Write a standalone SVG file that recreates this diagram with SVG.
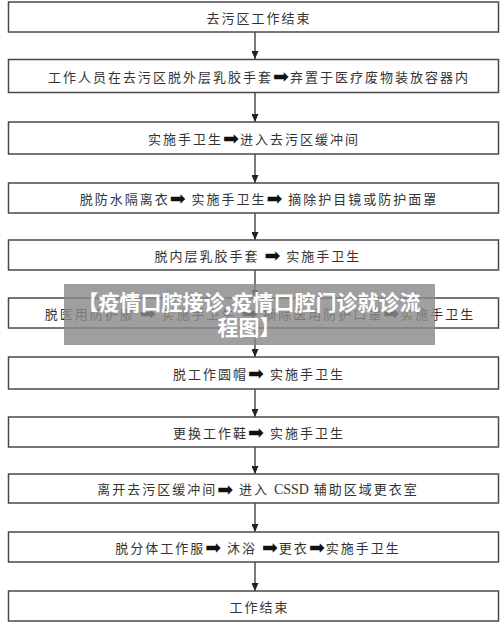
<svg xmlns="http://www.w3.org/2000/svg" width="500" height="631" viewBox="0 0 500 631">
<style>
.box{fill:#fff;stroke:#4a4a4a;stroke-width:1.5}
.t{font-family:"Noto Sans CJK SC","Noto Sans",sans-serif;font-size:13px;letter-spacing:2px;fill:#333;text-anchor:middle;dominant-baseline:central}
.a{font-family:"DejaVu Sans",sans-serif;font-size:19px;letter-spacing:1px;fill:#111}
.lat{font-family:"Liberation Serif",serif;font-size:14px;letter-spacing:0}
.conn{stroke:#333;stroke-width:1.3;fill:none}
.ov{fill:#8a8a8a;opacity:0.82}
.ot{font-family:"Noto Sans CJK SC",sans-serif;font-size:21px;font-weight:bold;fill:#fff;text-anchor:middle}
</style>
<defs>
<marker id="ad" markerWidth="7" markerHeight="8" refX="3.5" refY="8" orient="0" markerUnits="userSpaceOnUse" viewBox="0 0 7 8">
<path d="M0,0 L7,0 L3.5,8 Z" fill="#222"/>
</marker>
</defs>
<rect width="500" height="631" fill="#fff"/>
<g id="connectors">
<line class="conn" x1="255" y1="32" x2="255" y2="59" marker-end="url(#ad)"/>
<line class="conn" x1="255" y1="92.5" x2="255" y2="122" marker-end="url(#ad)"/>
<line class="conn" x1="255" y1="154" x2="255" y2="183" marker-end="url(#ad)"/>
<line class="conn" x1="255" y1="213" x2="255" y2="240" marker-end="url(#ad)"/>
<line class="conn" x1="255" y1="270" x2="255" y2="298" marker-end="url(#ad)"/>
<line class="conn" x1="255" y1="328" x2="255" y2="357" marker-end="url(#ad)"/>
<line class="conn" x1="255" y1="389" x2="255" y2="417" marker-end="url(#ad)"/>
<line class="conn" x1="255" y1="447" x2="255" y2="474" marker-end="url(#ad)"/>
<line class="conn" x1="255" y1="503" x2="255" y2="532" marker-end="url(#ad)"/>
<line class="conn" x1="255" y1="562" x2="255" y2="591" marker-end="url(#ad)"/>
</g>
<g id="n1"><rect class="box" x="8.5" y="2" width="490" height="30"/><text class="t" x="259" y="17">去污区工作结束</text></g>
<g id="n2"><rect class="box" x="8.5" y="59.5" width="490" height="33"/><text class="t" x="259" y="76">工作人员在去污区脱外层乳胶手套<tspan class="a">➡</tspan>弃置于医疗废物装放容器内</text></g>
<g id="n3"><rect class="box" x="8.5" y="122" width="490" height="32"/><text class="t" x="254" y="138">实施手卫生<tspan class="a">➡</tspan>进入去污区缓冲间</text></g>
<g id="n4"><rect class="box" x="8.5" y="183" width="490" height="30"/><text class="t" x="259" y="198">脱防水隔离衣<tspan class="a">➡</tspan> 实施手卫生<tspan class="a">➡</tspan> 摘除护目镜或防护面罩</text></g>
<g id="n5"><rect class="box" x="8.5" y="240" width="490" height="30"/><text class="t" x="258" y="255">脱内层乳胶手套 <tspan class="a">➡</tspan> 实施手卫生</text></g>
<g id="n6"><rect class="box" x="8.5" y="298" width="490" height="30"/><text class="t" x="260" y="313">脱医用防护服 <tspan class="a">➡</tspan> 实施手卫生 <tspan class="a">➡</tspan> 摘除医用防护口罩<tspan class="a">➡</tspan>实施手卫生</text></g>
<g id="n7"><rect class="box" x="8.5" y="357" width="490" height="32"/><text class="t" x="259" y="373">脱工作圆帽<tspan class="a">➡</tspan> 实施手卫生</text></g>
<g id="n8"><rect class="box" x="8.5" y="417" width="490" height="30"/><text class="t" x="259" y="432">更换工作鞋<tspan class="a">➡</tspan> 实施手卫生</text></g>
<g id="n9"><rect class="box" x="8.5" y="474" width="490" height="29"/><text class="t" x="258" y="488.5">离开去污区缓冲间<tspan class="a">➡</tspan> 进入 <tspan class="lat">CSSD</tspan> 辅助区域更衣室</text></g>
<g id="n10"><rect class="box" x="8.5" y="532" width="490" height="30"/><text class="t" x="258" y="547">脱分体工作服<tspan class="a">➡</tspan> 沐浴 <tspan class="a">➡</tspan>更衣<tspan class="a">➡</tspan>实施手卫生</text></g>
<g id="n11"><rect class="box" x="8.5" y="591" width="490" height="30"/><text class="t" x="259.5" y="606">工作结束</text></g>
<g id="overlay">
<rect class="ov" x="64" y="284" width="371" height="61"/>
<text class="ot" x="249" y="310">【疫情口腔接诊,疫情口腔门诊就诊流</text>
<text class="ot" x="249" y="335">程图】</text>
</g>
</svg>
